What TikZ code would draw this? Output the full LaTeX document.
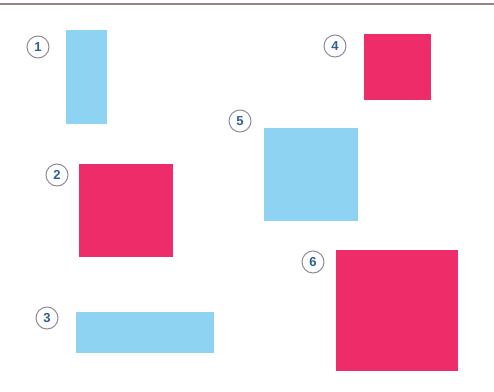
\documentclass[tikz,border=0pt]{standalone}
\usepackage{fontspec}
\setmainfont{Liberation Sans}
\begin{document}
\begin{tikzpicture}[x=1pt,y=-1pt,
  bluebox/.style={fill=skyb,draw=none},
  pinkbox/.style={fill=rosep,draw=none},
  numcirc/.style={circle,draw=circg,line width=1pt,minimum size=22pt,inner sep=0pt,
    font=\bfseries\fontsize{13}{13}\selectfont,text=numblue}]
\definecolor{skyb}{HTML}{8FD3F3}
\definecolor{rosep}{HTML}{EE2C69}
\definecolor{circg}{HTML}{8C8C9C}
\definecolor{numblue}{HTML}{2C5F95}
\definecolor{topline}{HTML}{9A7E90}
\useasboundingbox (0,0) rectangle (494,391);
\fill[white] (0,0) rectangle (494,391);
\coordinate (tl) at (0,4);
\coordinate (tr) at (494,4);
\draw[topline,line width=2.5pt] (tl) -- (tr);
\path[bluebox] (66,30) rectangle (107,124);
\path[pinkbox] (79,164) rectangle (173,257);
\path[bluebox] (76,312) rectangle (214,353);
\path[pinkbox] (364,34) rectangle (431,100);
\path[bluebox] (264,128) rectangle (358,221);
\path[pinkbox] (336,250) rectangle (458,371);
\node[numcirc] (n1) at (38,47) {1};
\node[numcirc] (n2) at (57,175) {2};
\node[numcirc] (n3) at (47,318) {3};
\node[numcirc] (n4) at (335,46) {4};
\node[numcirc] (n5) at (240,121) {5};
\node[numcirc] (n6) at (313,262) {6};
\end{tikzpicture}
\end{document}
